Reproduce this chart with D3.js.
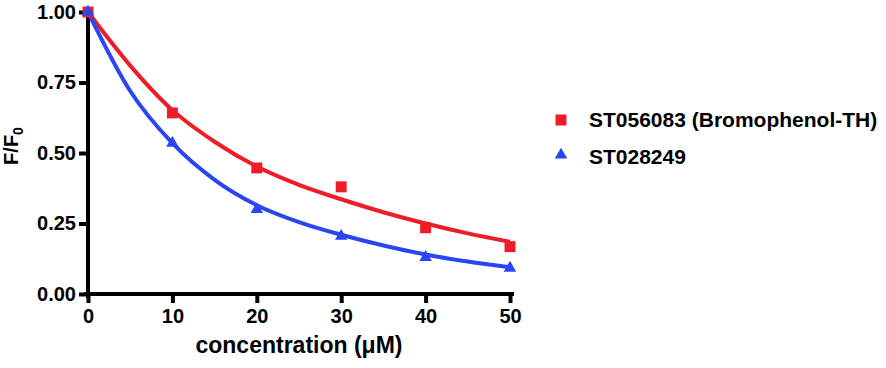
<!DOCTYPE html>
<html>
<head>
<meta charset="utf-8">
<script src="https://cdn.jsdelivr.net/npm/d3@7"></script>
<style>
  body { margin: 0; background: #fff; }
  text { font-family: "Liberation Sans", Arial, sans-serif; font-weight: bold; }
</style>
</head>
<body>
<div id="chart"></div>
<script>
// measured points
var conc = [0, 10, 20, 30, 40, 50];
var redPts = [1.0, 0.642, 0.447, 0.38, 0.235, 0.168];
var bluePts = [1.0, 0.535, 0.30, 0.205, 0.13, 0.092];

// fitted curves
var fitX = [0, 5, 10, 15, 20, 25, 30, 35, 40, 45, 50];
var redFit = [1.0, 0.81, 0.652, 0.54, 0.452, 0.387, 0.336, 0.29, 0.25, 0.215, 0.185];
var blueFit = [1.0, 0.72, 0.535, 0.405, 0.315, 0.255, 0.21, 0.172, 0.14, 0.115, 0.095];

var xTicks = [0, 10, 20, 30, 40, 50];
var yTicks = [0, 0.25, 0.5, 0.75, 1.0];
var seriesNames = ["ST056083 (Bromophenol-TH)", "ST028249"];

var red = "#ee1c25", blue = "#2b45f2";

var width = 886, height = 368;
var svg = d3.select("#chart").append("svg")
    .attr("width", width).attr("height", height);

var x = d3.scaleLinear().domain([0, 50]).range([88, 510]);
var y = d3.scaleLinear().domain([0, 1]).range([294, 12]);

// axes
var xAxis = svg.append("g").attr("transform", "translate(0,294)")
    .call(d3.axisBottom(x).tickValues(xTicks).tickSize(9).tickPadding(6).tickFormat(d3.format("d")));
var yAxis = svg.append("g").attr("transform", "translate(88,0)")
    .call(d3.axisLeft(y).tickValues(yTicks).tickSize(9).tickPadding(3).tickFormat(d3.format(".2f")));

[xAxis, yAxis].forEach(function(a) {
  a.select(".domain").attr("stroke", "#000").attr("stroke-width", 4)
    .attr("stroke-linecap", "square");
  a.selectAll(".tick line").attr("stroke", "#000").attr("stroke-width", 4);
  a.selectAll(".tick text").attr("fill", "#000").style("font-size", "20px")
    .style("font-family", "'Liberation Sans', Arial, sans-serif").style("font-weight", "bold");
});
xAxis.select(".domain").attr("d", "M" + (x(0) - 2) + ",0H" + (x(50) + 2));
yAxis.select(".domain").attr("d", "M0," + y(1) + "V" + (y(0) + 2));

// curves
var line = d3.line()
    .x(function(d) { return x(d[0]); })
    .y(function(d) { return y(d[1]); })
    .curve(d3.curveMonotoneX);

svg.append("path").datum(d3.zip(fitX, redFit))
    .attr("d", line).attr("fill", "none").attr("stroke", red).attr("stroke-width", 4);
svg.append("path").datum(d3.zip(fitX, blueFit))
    .attr("d", line).attr("fill", "none").attr("stroke", blue).attr("stroke-width", 4);

// markers
var sq = d3.symbol().type(d3.symbolSquare).size(120);
var tri = d3.symbol().type(d3.symbolTriangle).size(68);

svg.selectAll(".red").data(d3.zip(conc, redPts)).enter().append("path")
    .attr("class", "red").attr("d", sq).attr("fill", red)
    .attr("transform", function(d) { return "translate(" + x(d[0]) + "," + y(d[1]) + ")"; });
svg.selectAll(".blue").data(d3.zip(conc, bluePts)).enter().append("path")
    .attr("class", "blue").attr("d", tri).attr("fill", blue)
    .attr("transform", function(d) { return "translate(" + x(d[0]) + "," + y(d[1]) + ")"; });

// axis titles
svg.append("text").attr("x", 299).attr("y", 353).attr("text-anchor", "middle")
    .style("font-size", "23px").text("concentration (\u03bcM)");

var yt = svg.append("text").attr("transform", "translate(18,146) rotate(-90)")
    .attr("text-anchor", "middle").style("font-size", "20px");
yt.append("tspan").text("F/F");
yt.append("tspan").attr("dy", 5).style("font-size", "14px").text("0");

// legend
var legend = svg.append("g");
legend.append("path").attr("d", sq).attr("fill", red).attr("transform", "translate(561,120)");
legend.append("path").attr("d", tri).attr("fill", blue).attr("transform", "translate(561,155)");
legend.selectAll(".lt").data(seriesNames).enter().append("text")
    .attr("x", 589).attr("y", function(d, i) { return 127 + i * 37; })
    .style("font-size", "21px").text(function(d) { return d; });
</script>
</body>
</html>
